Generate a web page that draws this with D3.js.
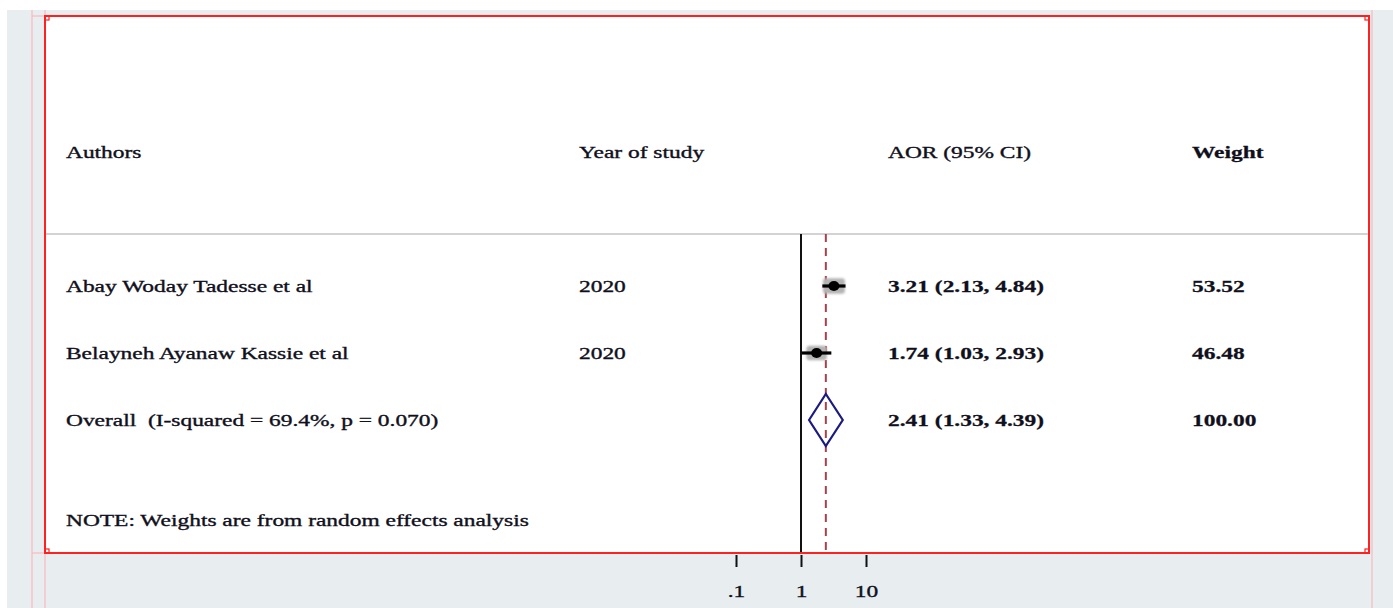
<!DOCTYPE html>
<html>
<head>
<meta charset="utf-8">
<script src="https://cdn.jsdelivr.net/npm/d3@7"></script>
<style>
  html, body { margin: 0; padding: 0; background: #ffffff; }
  svg { display: block; }
  text { font-family: "Liberation Serif", "Times New Roman", serif; fill: #10101c; white-space: pre; }
</style>
</head>
<body>
<svg id="chart" width="1393" height="608"></svg>
<script>
// Study-level results
const studies = ["Abay Woday Tadesse et al", "Belayneh Ayanaw Kassie et al"];
const years = ["2020", "2020"];
const aor = [3.21, 1.74];
const lower = [2.13, 1.03];
const upper = [4.84, 2.93];
const weights = [53.52, 46.48];

// Pooled estimate (random effects)
const overallLabel = "Overall  (I-squared = 69.4%, p = 0.070)";
const overallAor = 2.41;
const overallLower = 1.33;
const overallUpper = 4.39;
const overallWeight = 100.00;

const headers = ["Authors", "Year of study", "AOR (95% CI)", "Weight"];
const note = "NOTE: Weights are from random effects analysis";
const tickValues = [0.1, 1, 10];
const tickLabels = [".1", "1", "10"];

const svg = d3.select("#chart");
const W = 1393, H = 608;

// Background panels
svg.append("rect").attr("x", 7).attr("y", 10).attr("width", W - 7).attr("height", H - 10).attr("fill", "#e8eef0");

const box = { x0: 45, y0: 16, x1: 1369, y1: 553 };
svg.append("rect").attr("x", box.x0).attr("y", box.y0)
  .attr("width", box.x1 - box.x0).attr("height", box.y1 - box.y0).attr("fill", "#ffffff");

// Light guide lines around the plot region
const guide = svg.append("g").attr("stroke", "#f9b8bc").attr("stroke-width", 1.2).attr("fill", "none");
guide.append("line").attr("x1", 32).attr("x2", 32).attr("y1", 10).attr("y2", H);
guide.append("line").attr("x1", box.x0).attr("x2", box.x0).attr("y1", 10).attr("y2", H);
guide.append("line").attr("x1", 1372).attr("x2", 1372).attr("y1", 10).attr("y2", H);
guide.append("line").attr("x1", 32).attr("x2", box.x0).attr("y1", box.y0).attr("y2", box.y0);
guide.append("line").attr("x1", 32).attr("x2", box.x0).attr("y1", box.y1).attr("y2", box.y1);

// Scales
const x = d3.scaleLog().domain([0.1, 10]).range([736, 866]);
const y = d3.scaleLinear().domain([0, 1]).range([286, 353]);

const colX = [66, 579, 888, 1192];
const headerRow = -2, noteRow = 3.5;
const sepY = 234;
const sx = 1.42;

function label(g, str, xp, yc, bold) {
  return g.append("text")
    .attr("transform", `translate(${xp},${yc + 5.5}) scale(${sx},1)`)
    .attr("font-size", 16.5)
    .attr("font-weight", bold ? "bold" : "normal")
    .attr("stroke", "#10101c")
    .attr("stroke-width", bold ? 0.25 : 0.35)
    .attr("xml:space", "preserve")
    .text(str);
}

const txt = svg.append("g");
headers.forEach((h, i) => label(txt, h, colX[i], y(headerRow), i === 3));

studies.forEach((s, i) => {
  label(txt, s, colX[0], y(i), false);
  label(txt, years[i], colX[1], y(i), false);
  label(txt, `${aor[i].toFixed(2)} (${lower[i].toFixed(2)}, ${upper[i].toFixed(2)})`, colX[2], y(i), true);
  label(txt, weights[i].toFixed(2), colX[3], y(i), true);
});
const oi = studies.length;
label(txt, overallLabel, colX[0], y(oi), false);
label(txt, `${overallAor.toFixed(2)} (${overallLower.toFixed(2)}, ${overallUpper.toFixed(2)})`, colX[2], y(oi), true);
label(txt, overallWeight.toFixed(2), colX[3], y(oi), true);
label(txt, note, colX[0], y(noteRow), false);

// Separator under the header
svg.append("line").attr("x1", box.x0).attr("x2", box.x1).attr("y1", sepY).attr("y2", sepY)
  .attr("stroke", "#a8a8a8").attr("stroke-width", 1.2);

// Null line at AOR = 1
svg.append("line").attr("x1", x(1)).attr("x2", x(1)).attr("y1", sepY).attr("y2", box.y1)
  .attr("stroke", "#111").attr("stroke-width", 2);

// Pooled estimate reference line
svg.append("line").attr("x1", x(overallAor)).attr("x2", x(overallAor)).attr("y1", sepY).attr("y2", box.y1)
  .attr("stroke", "#a8404c").attr("stroke-width", 2).attr("stroke-dasharray", "8,6");

// Study markers: weight boxes, CI lines, point estimates
const marks = svg.append("g");
studies.forEach((s, i) => {
  const bw = 3.0 * Math.sqrt(weights[i]);
  const bh = 2.1 * Math.sqrt(weights[i]);
  marks.append("rect").attr("x", x(aor[i]) - bw / 2).attr("y", y(i) - bh / 2)
    .attr("width", bw).attr("height", bh).attr("fill", "#b4b4b4").attr("rx", 3)
    .style("filter", "blur(1px)");
  marks.append("line").attr("x1", x(lower[i])).attr("x2", x(upper[i]))
    .attr("y1", y(i)).attr("y2", y(i)).attr("stroke", "#000").attr("stroke-width", 3.2);
  marks.append("ellipse").attr("cx", x(aor[i])).attr("cy", y(i)).attr("rx", 5.5).attr("ry", 5).attr("fill", "#000");
});

// Pooled diamond
const dh = 26;
const dpts = [
  [x(overallLower), y(oi)], [x(overallAor), y(oi) - dh],
  [x(overallUpper), y(oi)], [x(overallAor), y(oi) + dh]
];
marks.append("polygon").attr("points", dpts.map(p => p.join(",")).join(" "))
  .attr("fill", "none").attr("stroke", "#1a1a80").attr("stroke-width", 2.2);

// Outer frame
svg.append("rect").attr("x", box.x0).attr("y", box.y0)
  .attr("width", box.x1 - box.x0).attr("height", box.y1 - box.y0)
  .attr("fill", "none").attr("stroke", "#ff2020").attr("stroke-width", 2);
[[box.x0, box.y0], [box.x1, box.y0], [box.x0, box.y1], [box.x1, box.y1]].forEach(([cx, cy]) => {
  const ox = cx === box.x0 ? 0 : -4, oy = cy === box.y0 ? 0 : -4;
  svg.append("rect").attr("x", cx + ox).attr("y", cy + oy).attr("width", 4).attr("height", 4)
    .attr("fill", "none").attr("stroke", "#ff2020").attr("stroke-width", 1.2);
});

// Log axis
const axis = d3.axisBottom(x).tickValues(tickValues)
  .tickFormat((d, i) => tickLabels[i]).tickSize(12).tickPadding(18);
const ax = svg.append("g").attr("transform", `translate(0,${box.y1 + 2})`).call(axis);
ax.select(".domain").remove();
ax.selectAll(".tick line").attr("stroke", "#111").attr("stroke-width", 2);
ax.selectAll(".tick text")
  .attr("font-family", "Liberation Serif, Times New Roman, serif")
  .attr("font-size", 16.5).attr("fill", "#10101c")
  .attr("stroke", "#10101c").attr("stroke-width", 0.35)
  .attr("transform", `scale(${sx},1)`);
</script>
</body>
</html>
